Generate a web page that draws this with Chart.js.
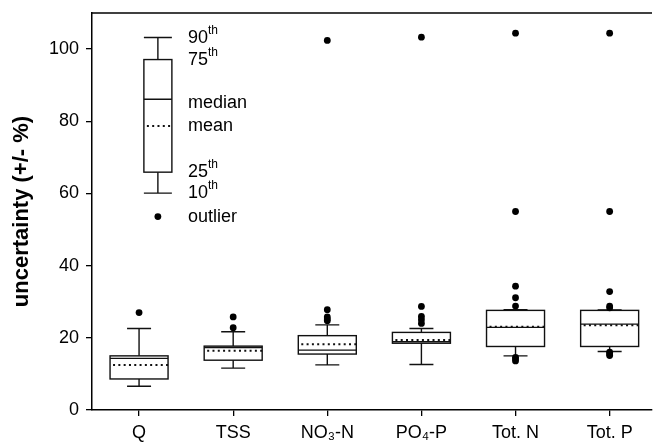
<!DOCTYPE html>
<html>
<head>
<meta charset="utf-8">
<script src="https://cdn.jsdelivr.net/npm/chart.js@4"></script>
<style>
  html, body { margin: 0; padding: 0; background: #fff; overflow: hidden; }
</style>
</head>
<body>
<canvas id="boxChart" width="656" height="442"></canvas>
<script>
// Uncertainty box plots (10th/25th/median/mean/75th/90th + outliers)
const categories = ['Q', 'TSS', 'NO₃-N', 'PO₄-P', 'Tot. N', 'Tot. P'];
const p10    = [6.6, 11.6, 12.5, 12.6, 15.0, 16.2];
const q1     = [8.6, 13.8, 15.5, 18.5, 17.6, 17.6];
const median = [14.3, 17.3, 16.6, 18.9, 22.9, 23.8];
const mean   = [12.5, 16.4, 18.2, 19.4, 23.1, 23.5];
const q3     = [15.0, 17.7, 20.6, 21.5, 27.6, 27.6];
const p90    = [22.6, 21.7, 23.6, 22.6, 27.8, 27.7];
const outliers = [
  [27.0],
  [25.8, 22.8],
  [102.4, 27.8, 25.8, 25.2, 24.7],
  [103.3, 28.7, 25.9, 25.0, 24.0],
  [104.4, 55.0, 34.3, 31.1, 28.8, 14.6, 14.1, 13.6],
  [104.4, 55.0, 32.8, 28.8, 28.3, 16.0, 15.5, 15.1]
];
const yTicks = [0, 20, 40, 60, 80, 100];

// key box (drawn inside the plot)
const keyLabels = ['90th', '75th', 'median', 'mean', '25th', '10th', 'outlier'];
const keyValues = [103.2, 97.1, 86.1, 78.7, 65.9, 60.1, 53.6];

const ink = '#000';
const FONT = "'Liberation Sans', Arial, sans-serif";

const pointData = outliers.flatMap((vals, i) => vals.map(v => ({ x: i + 1, y: v })));
pointData.push({ x: 1.2, y: keyValues[6] });

const boxPlugin = {
  id: 'boxes',
  beforeDatasetsDraw(chart) {
    const { ctx, chartArea, scales: { x, y } } = chart;
    ctx.save();
    // top frame line
    ctx.strokeStyle = ink;
    ctx.lineWidth = 1.5;
    ctx.beginPath();
    ctx.moveTo(chartArea.left, chartArea.top);
    ctx.lineTo(chartArea.right, chartArea.top);
    ctx.stroke();

    const drawBox = (cx, lo, b1, med, mn, b3, hi, half, cap) => {
      const yl = y.getPixelForValue(lo), y1 = y.getPixelForValue(b1);
      const ym = y.getPixelForValue(med), ya = y.getPixelForValue(mn);
      const y3 = y.getPixelForValue(b3), yh = y.getPixelForValue(hi);
      ctx.setLineDash([]);
      ctx.lineWidth = 1.4;
      ctx.strokeStyle = '#111';
      ctx.strokeRect(cx - half, y3, half * 2, y1 - y3);
      ctx.beginPath();
      ctx.moveTo(cx - half, ym); ctx.lineTo(cx + half, ym);
      ctx.moveTo(cx, y3); ctx.lineTo(cx, yh);
      ctx.moveTo(cx - cap, yh); ctx.lineTo(cx + cap, yh);
      ctx.moveTo(cx, y1); ctx.lineTo(cx, yl);
      ctx.moveTo(cx - cap, yl); ctx.lineTo(cx + cap, yl);
      ctx.stroke();
      // mean, dotted
      ctx.setLineDash([2, 3.3]);
      ctx.lineWidth = 2;
      ctx.beginPath();
      ctx.moveTo(cx - half + 3, ya); ctx.lineTo(cx + half, ya);
      ctx.stroke();
      ctx.setLineDash([]);
    };

    categories.forEach((c, i) => {
      drawBox(x.getPixelForValue(i + 1), p10[i], q1[i], median[i], mean[i], q3[i], p90[i], 29, 12);
    });

    // key
    const kx = x.getPixelForValue(1.2);
    const kv = keyValues;
    drawBox(kx, kv[5], kv[4], kv[2], kv[3], kv[1], kv[0], 14, 14);

    ctx.fillStyle = ink;
    ctx.textBaseline = 'middle';
    keyLabels.forEach((lab, i) => {
      const ty = y.getPixelForValue(kv[i]) + (lab === 'median' ? 4 : 0);
      const tx = kx + 30;
      const m = lab.match(/^(\d+)(th)$/);
      ctx.font = '18px ' + FONT;
      if (m) {
        ctx.fillText(m[1], tx, ty);
        const w = ctx.measureText(m[1]).width;
        ctx.font = '12px ' + FONT;
        ctx.fillText(m[2], tx + w, ty - 7);
      } else {
        ctx.fillText(lab, tx, ty);
      }
    });
    ctx.restore();
  }
};

new Chart(document.getElementById('boxChart'), {
  type: 'scatter',
  data: {
    datasets: [{
      data: pointData,
      backgroundColor: ink,
      borderColor: ink,
      pointRadius: 3.4,
      borderWidth: 0
    }]
  },
  options: {
    responsive: false,
    animation: false,
    layout: { padding: { top: 13, left: 0, right: 0, bottom: 0 } },
    plugins: { legend: { display: false }, tooltip: { enabled: false } },
    scales: {
      x: {
        type: 'linear', min: 0.5, max: 6.45,
        afterBuildTicks: axis => { axis.ticks = categories.map((c, i) => ({ value: i + 1 })); },
        afterFit: axis => { axis.height = 32; axis.paddingLeft = 0; axis.paddingRight = 0; },
        ticks: {
          color: ink, padding: 6,
          font: { family: FONT, size: 18 },
          callback: v => categories[v - 1]
        },
        grid: { drawOnChartArea: false, drawTicks: true, tickLength: 6, color: ink, lineWidth: 1.3 },
        border: { display: true, color: ink, width: 1.5 }
      },
      y: {
        min: 0, max: 110,
        afterBuildTicks: axis => { axis.ticks = yTicks.map(v => ({ value: v })); },
        afterFit: axis => { axis.width = 92; axis.paddingTop = 0; axis.paddingBottom = 0; },
        ticks: { color: ink, padding: 7, font: { family: FONT, size: 18 } },
        grid: { drawOnChartArea: false, drawTicks: true, tickLength: 6, color: ink, lineWidth: 1.3 },
        border: { display: true, color: ink, width: 1.5 },
        title: {
          display: true, text: 'uncertainty (+/- %)', color: ink,
          font: { family: FONT, size: 22, weight: 'bold' },
          padding: { top: 9, bottom: 0 }
        }
      }
    }
  },
  plugins: [boxPlugin]
});
</script>
</body>
</html>
